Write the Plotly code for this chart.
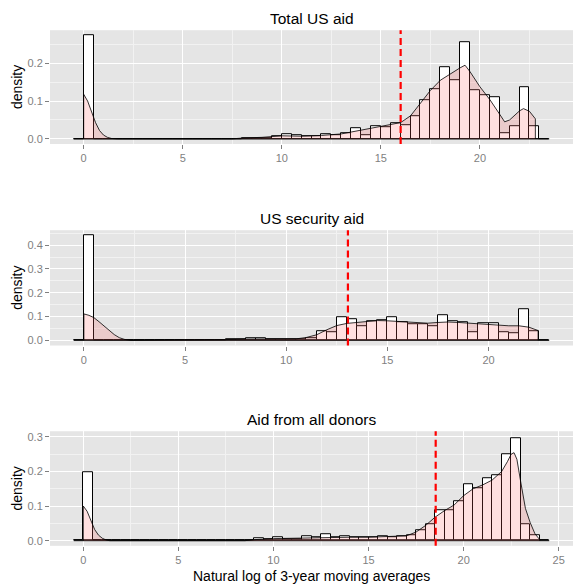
import plotly.graph_objects as go

# ---------------- data ----------------
BINWIDTH = 0.5
panel_titles = ["Total US aid", "US security aid", "Aid from all donors"]
x_title = "Natural log of 3-year moving averages"
y_title = "density"

# Histogram densities, one value per 0.5-wide bin, first bin starts at -0.5
total_bin_start = -0.5
total_hist = [0, 0.274,
              0, 0, 0, 0, 0, 0, 0, 0, 0, 0, 0, 0, 0, 0, 0,
              0.002, 0.002, 0.002, 0.006, 0.013, 0.009, 0.006, 0.008, 0.011, 0.010,
              0.016, 0.029, 0.010, 0.034, 0.030, 0.042, 0.035, 0.061, 0.102, 0.131,
              0.189, 0.154, 0.256, 0.129, 0.116, 0.110, 0.016, 0.033, 0.137, 0.033, 0]
total_dens_x = [0, 0.2, 0.4, 0.6, 0.8, 1.0, 1.2, 1.4, 1.7, 7.5, 8, 9, 10, 11, 12, 13,
                13.5, 14, 14.5, 15, 15.5, 16, 16.5, 17, 17.5, 18, 18.5, 19, 19.25,
                19.5, 20, 20.5, 21, 21.25, 21.5, 22, 22.2, 22.5, 22.8]
total_dens_y = [0.118, 0.100, 0.072, 0.043, 0.022, 0.010, 0.004, 0.001, 0, 0, 0.002,
                0.004, 0.008, 0.007, 0.009, 0.013, 0.018, 0.023, 0.028, 0.033, 0.038,
                0.043, 0.061, 0.093, 0.128, 0.155, 0.172, 0.188, 0.195, 0.178, 0.138,
                0.104, 0.065, 0.045, 0.050, 0.074, 0.080, 0.073, 0.053]
total_mean = 16.0

security_bin_start = -0.5
security_hist = [0, 0.441,
                 0, 0, 0, 0, 0, 0, 0, 0, 0, 0, 0, 0, 0,
                 0.003, 0.006, 0.007, 0.007, 0.003, 0.006, 0.005, 0.004, 0.007, 0.037,
                 0.032, 0.097, 0.089, 0.058, 0.080, 0.083, 0.097, 0.076, 0.069, 0.069,
                 0.058, 0.104, 0.080, 0.078, 0.033, 0.070, 0.072, 0.032, 0.030, 0.131,
                 0.039, 0]
security_dens_x = [0, 0.25, 0.5, 0.75, 1.0, 1.25, 1.5, 1.75, 2.0, 2.3, 6.5, 7, 8, 9, 10,
                   10.5, 11, 11.5, 12, 12.5, 13, 13.5, 14, 14.5, 15, 15.5, 16, 16.5, 17,
                   17.5, 18, 18.5, 19, 19.5, 20, 20.5, 21, 21.5, 22, 22.45]
security_dens_y = [0.111, 0.105, 0.095, 0.078, 0.060, 0.041, 0.024, 0.011, 0.004, 0, 0,
                   0.003, 0.005, 0.005, 0.004, 0.006, 0.012, 0.023, 0.044, 0.062, 0.071,
                   0.076, 0.080, 0.083, 0.082, 0.080, 0.077, 0.073, 0.072, 0.075, 0.077,
                   0.075, 0.072, 0.068, 0.067, 0.063, 0.061, 0.061, 0.055, 0.041]
security_mean = 13.05

donors_bin_start = -0.5
donors_hist = [0, 0.198,
               0, 0, 0, 0, 0, 0, 0, 0, 0, 0, 0, 0, 0, 0, 0, 0,
               0.002, 0.008, 0.003, 0.010, 0.005, 0.003, 0.012, 0.011, 0.019, 0.010,
               0.013, 0.010, 0.009, 0.011, 0.012, 0.009, 0.012, 0.017, 0.030, 0.047,
               0.087, 0.087, 0.114, 0.162, 0.150, 0.181, 0.190, 0.250, 0.297, 0.047,
               0.016, 0]
donors_dens_x = [0, 0.2, 0.4, 0.6, 0.8, 1.0, 1.2, 1.4, 8.5, 9, 10, 11, 12, 13, 14, 15,
                 16, 16.5, 17, 17.5, 18, 18.5, 19, 19.5, 20, 20.5, 21, 21.5, 22, 22.3,
                 22.5, 22.65, 22.8, 23, 23.25, 23.5, 23.75, 24]
donors_dens_y = [0.100, 0.085, 0.057, 0.032, 0.016, 0.007, 0.002, 0, 0, 0.003, 0.006,
                 0.007, 0.009, 0.011, 0.010, 0.010, 0.011, 0.013, 0.014, 0.025, 0.044,
                 0.068, 0.087, 0.103, 0.130, 0.150, 0.161, 0.175, 0.200, 0.228, 0.250,
                 0.254, 0.235, 0.170, 0.093, 0.052, 0.020, 0.003]
donors_mean = 18.53

x_ticks_short = [0, 5, 10, 15, 20]
x_ticks_long = [0, 5, 10, 15, 20, 25]
y_ticks_total = [0.0, 0.1, 0.2]
y_ticks_security = [0.0, 0.1, 0.2, 0.3, 0.4]
y_ticks_donors = [0.0, 0.1, 0.2, 0.3]

# ---------------- styling / layout ----------------
W, H = 573, 588
FONT = "Liberation Sans, Arial, sans-serif"
PANEL_BG = "#E5E5E5"
TICK_COL = "#7F7F7F"
DENS_FILL = "rgba(255,102,102,0.2)"

# panel pixel boxes: (left, right, top, bottom)
boxes = [(50, 573, 29.3, 143.5), (50, 573, 230.0, 345.7), (50, 573, 431.7, 546.7)]
x_ranges = [[-1.7, 24.7], [-1.675, 24.175], [-1.75, 25.75]]
y_ranges = [[-0.0137, 0.2877], [-0.022, 0.463], [-0.0149, 0.316]]

panels = [
    (total_bin_start, total_hist, total_dens_x, total_dens_y, total_mean,
     x_ticks_short, y_ticks_total),
    (security_bin_start, security_hist, security_dens_x, security_dens_y, security_mean,
     x_ticks_short, y_ticks_security),
    (donors_bin_start, donors_hist, donors_dens_x, donors_dens_y, donors_mean,
     x_ticks_long, y_ticks_donors),
]

fig = go.Figure()
layout = dict(
    width=W, height=H, margin=dict(l=0, r=0, t=0, b=0),
    paper_bgcolor="white", plot_bgcolor=PANEL_BG, showlegend=False,
    font=dict(family=FONT, color="black"), bargap=0,
)
annotations = []
shapes = []

for i, (b0, hist, dx, dy, mean, xt, yt) in enumerate(panels):
    n = i + 1
    xa = "x" if n == 1 else f"x{n}"
    ya = "y" if n == 1 else f"y{n}"
    left, right, top, bottom = boxes[i]
    xdom = [left / W, right / W]
    ydom = [1 - bottom / H, 1 - top / H]

    # histogram bars
    lefts = [b0 + k * BINWIDTH for k in range(len(hist))]
    centers = [l + BINWIDTH / 2 for l in lefts]
    fig.add_trace(go.Bar(
        x=centers, y=hist, width=BINWIDTH, xaxis=xa, yaxis=ya,
        marker=dict(color="white", line=dict(color="black", width=1)),
        hoverinfo="skip",
    ))
    # baseline spanning the binned range
    fig.add_trace(go.Scatter(
        x=[lefts[0], lefts[-1] + BINWIDTH], y=[0, 0], mode="lines",
        line=dict(color="black", width=1), xaxis=xa, yaxis=ya, hoverinfo="skip",
    ))
    # density polygon
    px = [dx[0]] + dx + [dx[-1]]
    py = [0] + dy + [0]
    fig.add_trace(go.Scatter(
        x=px, y=py, mode="lines", fill="toself", fillcolor=DENS_FILL,
        line=dict(color="black", width=0.8), xaxis=xa, yaxis=ya, hoverinfo="skip",
    ))
    # mean line
    shapes.append(dict(
        type="line", xref=xa, yref=f"{ya} domain", x0=mean, x1=mean, y0=0, y1=1,
        line=dict(color="red", width=2.2, dash="7px,4px"), layer="above",
    ))

    axis_common = dict(
        showgrid=True, gridcolor="white", gridwidth=1.3, zeroline=False,
        showline=False, ticks="outside", ticklen=4, tickwidth=1, tickcolor=TICK_COL,
        tickfont=dict(family=FONT, size=11, color=TICK_COL),
    )
    layout[f"xaxis{'' if n == 1 else n}"] = dict(
        axis_common, domain=xdom, anchor=ya, range=x_ranges[i],
        tickvals=xt, ticktext=[str(v) for v in xt],
        minor=dict(showgrid=True, gridcolor="#F2F2F2", gridwidth=0.6, dtick=2.5,
                   tick0=0, ticks=""),
    )
    layout[f"yaxis{'' if n == 1 else n}"] = dict(
        axis_common, domain=ydom, anchor=xa, range=y_ranges[i],
        tickvals=yt, ticktext=[f"{v:.1f}" for v in yt],
        minor=dict(showgrid=True, gridcolor="#F2F2F2", gridwidth=0.6, dtick=0.05,
                   tick0=0, ticks=""),
    )

    # panel title
    annotations.append(dict(
        text=panel_titles[i], xref="paper", yref="paper",
        x=(xdom[0] + xdom[1]) / 2, y=ydom[1], xanchor="center", yanchor="bottom",
        yshift=1, showarrow=False, font=dict(family=FONT, size=15.5, color="black"),
    ))
    # y axis title
    annotations.append(dict(
        text=y_title, xref="paper", yref="paper", x=17 / W,
        y=(ydom[0] + ydom[1]) / 2, xanchor="center", yanchor="middle",
        textangle=-90, showarrow=False, font=dict(family=FONT, size=14, color="black"),
    ))

# x axis title
annotations.append(dict(
    text=x_title, xref="paper", yref="paper",
    x=(boxes[2][0] + boxes[2][1]) / 2 / W, y=1 - 577 / H,
    xanchor="center", yanchor="middle", showarrow=False,
    font=dict(family=FONT, size=14, color="black"),
))

layout["annotations"] = annotations
layout["shapes"] = shapes
fig.update_layout(**layout)
fig.write_html("out.html")
